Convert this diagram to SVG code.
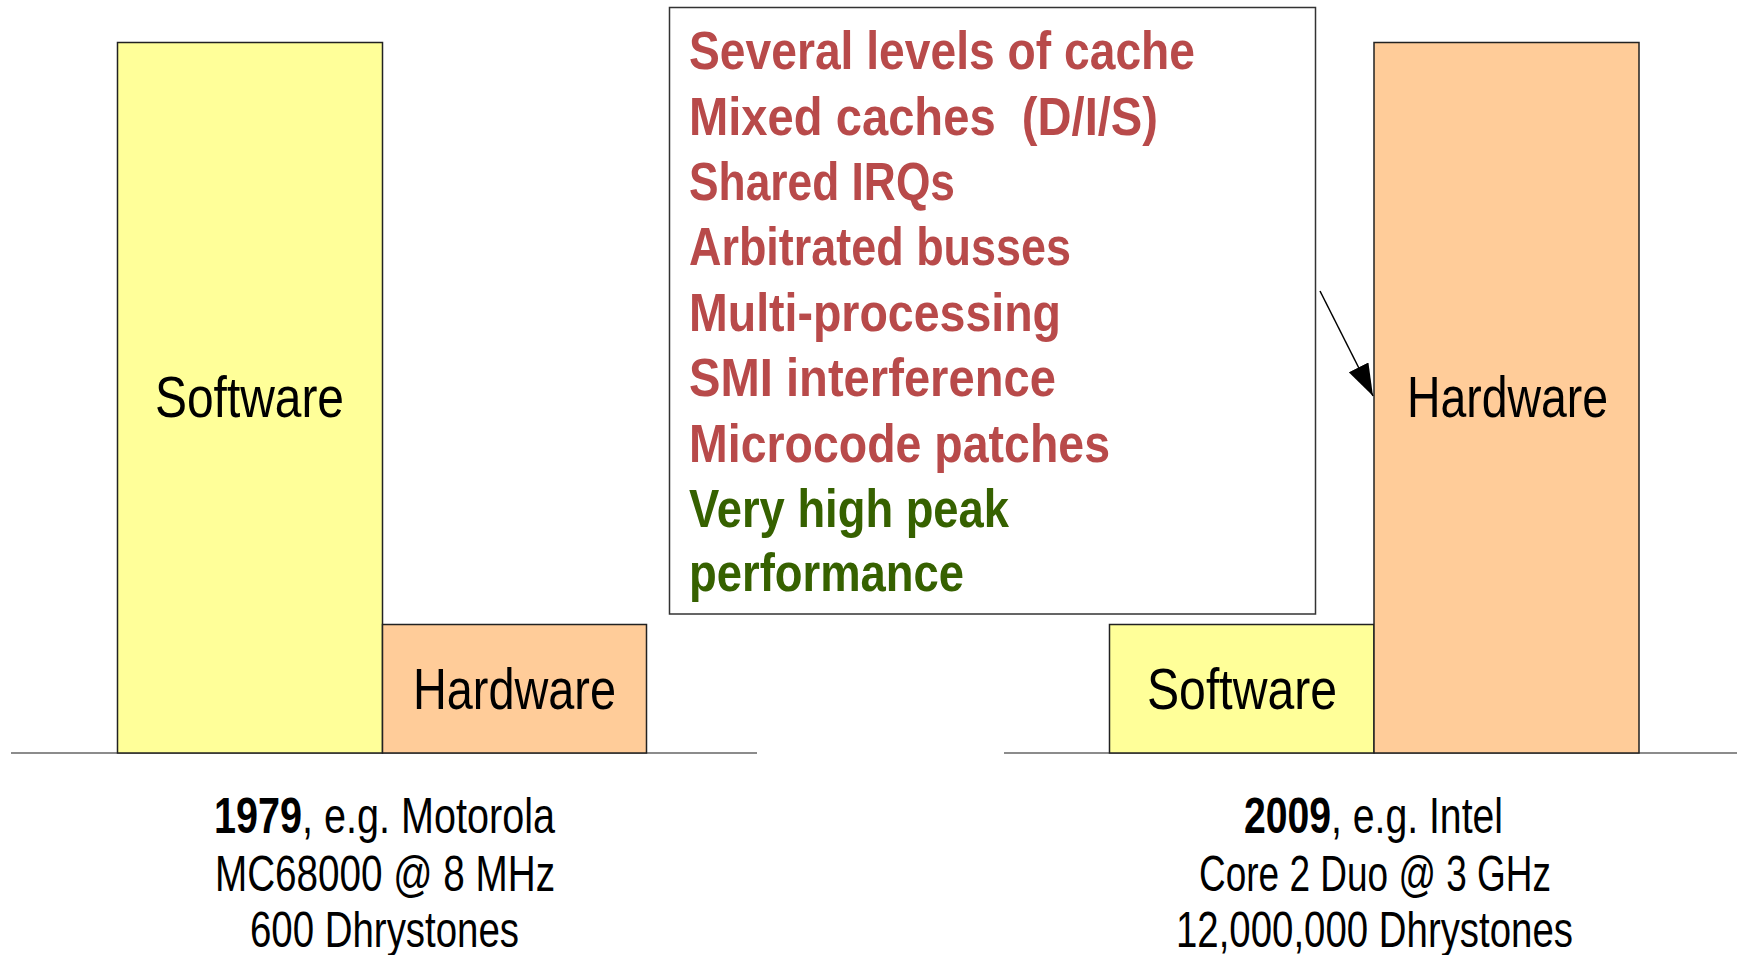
<svg xmlns="http://www.w3.org/2000/svg" width="1737" height="955" viewBox="0 0 1737 955">
<style>
.sw{fill:#FFFF99;stroke:#222;stroke-width:1.5}
.hw{fill:#FFCC99;stroke:#222;stroke-width:1.5}
.lbl{font-family:"Liberation Sans",Arial,sans-serif;font-size:58px;fill:#000}
.cap{font-family:"Liberation Sans",Arial,sans-serif;font-size:50px;fill:#000}
.b{font-weight:bold}
.lst{font-family:"Liberation Sans",Arial,sans-serif;font-size:54px;font-weight:bold}
.red{fill:#B84A4A}
.grn{fill:#366100}
.axis{stroke:#666;stroke-width:1.5}
</style>
<defs>
<marker id="ah" viewBox="0 0 32 22" refX="32" refY="11" markerWidth="32" markerHeight="22" markerUnits="userSpaceOnUse" orient="auto" preserveAspectRatio="none">
<path d="M0,0 L32,11 L0,22 z" fill="#000"/>
</marker>
</defs>
<rect width="1737" height="955" fill="#fff"/>
<g id="axes">
<line class="axis" x1="11" y1="753" x2="757" y2="753"/>
<line class="axis" x1="1004" y1="753" x2="1737" y2="753"/>
</g>
<g id="sw1979">
<rect class="sw" x="117.5" y="42.5" width="265" height="710.5"/>
<text class="lbl" x="155" y="417" textLength="189" lengthAdjust="spacingAndGlyphs">Software</text>
</g>
<g id="hw1979">
<rect class="hw" x="382.5" y="624.5" width="264" height="128.5"/>
<text class="lbl" x="413" y="709" textLength="203" lengthAdjust="spacingAndGlyphs">Hardware</text>
</g>
<g id="sw2009">
<rect class="sw" x="1109.5" y="624.5" width="264.5" height="128.5"/>
<text class="lbl" x="1147" y="709" textLength="190" lengthAdjust="spacingAndGlyphs">Software</text>
</g>
<g id="hw2009">
<rect class="hw" x="1374" y="42.5" width="265" height="710.5"/>
<text class="lbl" x="1407" y="417" textLength="201" lengthAdjust="spacingAndGlyphs">Hardware</text>
</g>
<g id="issues">
<rect x="669.5" y="7.5" width="646" height="606.5" fill="#fff" stroke="#333" stroke-width="1.5"/>
<text class="lst red" x="689" y="69" textLength="506" lengthAdjust="spacingAndGlyphs">Several levels of cache</text>
<text class="lst red" x="689" y="134.5" textLength="469" lengthAdjust="spacingAndGlyphs" xml:space="preserve">Mixed caches  (D/I/S)</text>
<text class="lst red" x="689" y="200" textLength="266" lengthAdjust="spacingAndGlyphs">Shared IRQs</text>
<text class="lst red" x="689" y="265" textLength="382" lengthAdjust="spacingAndGlyphs">Arbitrated busses</text>
<text class="lst red" x="689" y="330.5" textLength="372" lengthAdjust="spacingAndGlyphs">Multi-processing</text>
<text class="lst red" x="689" y="396" textLength="367" lengthAdjust="spacingAndGlyphs">SMI interference</text>
<text class="lst red" x="689" y="461.5" textLength="421" lengthAdjust="spacingAndGlyphs">Microcode patches</text>
<text class="lst grn" x="689" y="527" textLength="320" lengthAdjust="spacingAndGlyphs">Very high peak</text>
<text class="lst grn" x="689" y="591" textLength="275" lengthAdjust="spacingAndGlyphs">performance</text>
</g>
<g id="connectors">
<line x1="1320" y1="291" x2="1373" y2="396" stroke="#000" stroke-width="1.5" marker-end="url(#ah)"/>
</g>
<g id="caption1979">
<text class="cap" x="214" y="833" textLength="341" lengthAdjust="spacingAndGlyphs"><tspan class="b">1979</tspan>, e.g. Motorola</text>
<text class="cap" x="215" y="890.5" textLength="340" lengthAdjust="spacingAndGlyphs">MC68000 @ 8 MHz</text>
<text class="cap" x="250" y="947" textLength="269" lengthAdjust="spacingAndGlyphs">600 Dhrystones</text>
</g>
<g id="caption2009">
<text class="cap" x="1244" y="833" textLength="259" lengthAdjust="spacingAndGlyphs"><tspan class="b">2009</tspan>, e.g. Intel</text>
<text class="cap" x="1199" y="890.5" textLength="352" lengthAdjust="spacingAndGlyphs">Core 2 Duo @ 3 GHz</text>
<text class="cap" x="1176" y="947" textLength="397" lengthAdjust="spacingAndGlyphs">12,000,000 Dhrystones</text>
</g>
</svg>
